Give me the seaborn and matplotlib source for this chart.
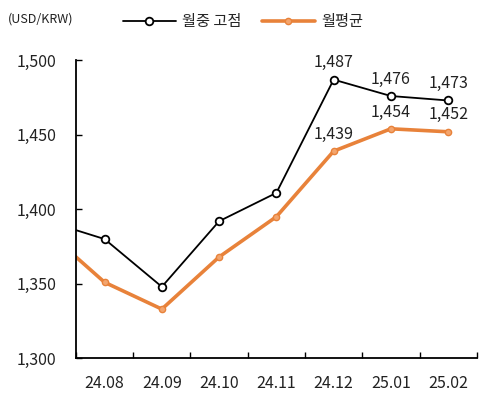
import matplotlib
matplotlib.use("Agg")
import matplotlib.pyplot as plt
import seaborn as sns
import pandas as pd
import numpy as np

months = ["24.07", "24.08", "24.09", "24.10", "24.11", "24.12", "25.01", "25.02"]
high = [1392, 1380, 1348, 1392, 1411, 1487, 1476, 1473]
avg = [1385, 1351, 1333, 1368, 1395, 1439, 1454, 1452]
labeled_months = ["24.12", "25.01", "25.02"]
yticks = [1300, 1350, 1400, 1450, 1500]

sns.set_theme(style="white")
plt.rcParams["font.family"] = ["Noto Sans CJK KR", "DejaVu Sans"]

black = "#000000"
orange = "#E8823A"
txt = "#222222"
fs = 11.5

df = pd.DataFrame({"x": np.arange(len(months)), "month": months, "high": high, "avg": avg})

fig = plt.figure(figsize=(4.87, 3.99), dpi=100)
ax = fig.add_axes([0.156, 0.102, 0.823, 0.747])

sns.lineplot(data=df, x="x", y="avg", ax=ax, color=orange, linewidth=2.6,
             marker="o", markersize=4.5, markerfacecolor="#F3A56E", markeredgecolor=orange,
             markeredgewidth=1.0, label="월평균", zorder=2)
sns.lineplot(data=df, x="x", y="high", ax=ax, color=black, linewidth=1.3,
             marker="o", markersize=5.5, markerfacecolor="white", markeredgecolor=black,
             markeredgewidth=1.3, label="월중 고점", zorder=3)

for i, m in enumerate(months):
    if m in labeled_months:
        ax.annotate(f"{high[i]:,}", (i, high[i]), xytext=(0, 6), textcoords="offset points",
                    ha="center", va="bottom", fontsize=fs, color=txt)
        ax.annotate(f"{avg[i]:,}", (i, avg[i]), xytext=(0, 6), textcoords="offset points",
                    ha="center", va="bottom", fontsize=fs, color=txt)

ax.set_xlim(0.5, len(months) - 0.5)
ax.set_ylim(1300, 1500)
ax.set_xticks(np.arange(1, len(months)))
ax.set_xticklabels(months[1:])
ax.set_xticks(np.arange(0.5, len(months)), minor=True)
ax.set_yticks(yticks)
ax.set_yticklabels([f"{v:,}" for v in yticks])
ax.tick_params(axis="x", which="major", length=0, pad=12, labelsize=fs, colors=txt)
ax.tick_params(axis="x", which="minor", length=4, direction="in", width=1, color=black, bottom=True)
ax.tick_params(axis="y", which="major", length=4, direction="in", width=1, pad=14,
               labelsize=fs, color=black, labelcolor=txt, left=True)
ax.set_xlabel("")
ax.set_ylabel("")
for s in ["top", "right"]:
    ax.spines[s].set_visible(False)
for s in ["left", "bottom"]:
    ax.spines[s].set_color(black)
    ax.spines[s].set_linewidth(1.3)

handles, labels = ax.get_legend_handles_labels()
order = [labels.index("월중 고점"), labels.index("월평균")]
ax.legend([handles[i] for i in order], [labels[i] for i in order],
          loc="center left", bbox_to_anchor=(0.252, 0.945), bbox_transform=fig.transFigure,
          ncol=2, frameon=False, fontsize=11, handlelength=3.5, handletextpad=0.4,
          columnspacing=1.3, borderaxespad=0, borderpad=0)

fig.text(0.016, 0.952, "(USD/KRW)", fontsize=9, ha="left", va="center", color=txt)

fig.savefig("out.png", dpi=100)
